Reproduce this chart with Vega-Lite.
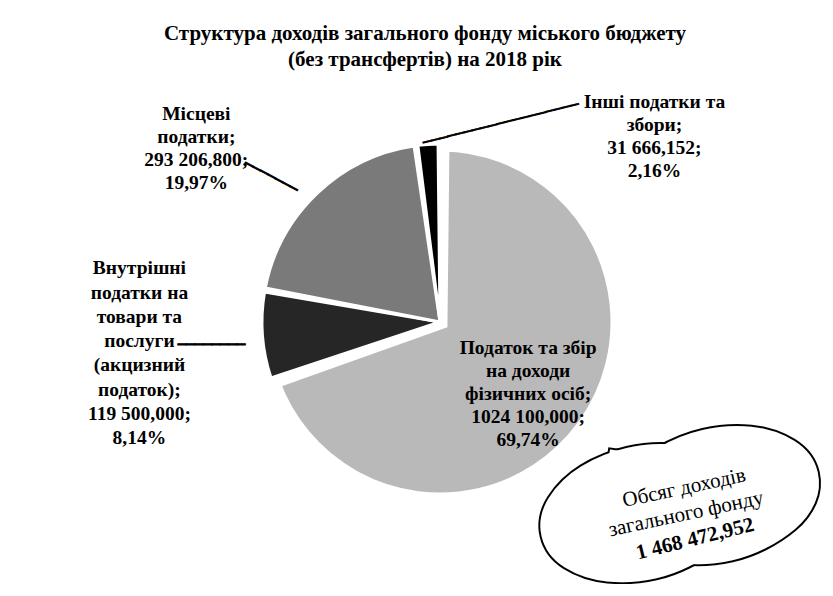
{
  "$schema": "https://vega.github.io/schema/vega-lite/v6.json",
  "autosize": {"type": "none"},
  "width": 776,
  "height": 524,
  "padding": {"top": 60, "left": 52, "right": 0, "bottom": 0},
  "background": "white",
  "config": {"view": {"stroke": null}, "font": "Liberation Serif"},
  "title": {
    "text": ["Структура доходів загального фонду міського бюджету", "(без трансфертів) на 2018 рік"],
    "font": "Liberation Serif",
    "fontSize": 21,
    "fontWeight": "bold",
    "lineHeight": 26,
    "color": "black",
    "anchor": "middle",
    "dx": -15,
    "offset": -10
  },
  "data": {
    "values": [
      {"n": 1, "cat": "Податок та збір на доходи фізичних осіб", "value": 1024100.000, "label": "Податок та збір\nна доходи\nфізичних осіб;\n1024 100,000;\n69,74%"},
      {"n": 2, "cat": "Внутрішні податки на товари та послуги (акцизний податок)", "value": 119500.000, "label": "Внутрішні\nподатки на\nтовари та\nпослуги\n(акцизний\nподаток);\n119 500,000;\n8,14%"},
      {"n": 3, "cat": "Місцеві податки", "value": 293206.800, "label": "Місцеві\nподатки;\n293 206,800;\n19,97%"},
      {"n": 4, "cat": "Інші податки та збори", "value": 31666.152, "label": "Інші податки та\nзбори;\n31 666,152;\n2,16%"}
    ]
  },
  "encoding": {
    "theta": {"field": "value", "type": "quantitative", "stack": true},
    "order": {"field": "n", "type": "quantitative"}
  },
  "layer": [
    {
      "mark": {"type": "arc", "outerRadius": 178, "padAngle": 0.022, "stroke": "white"},
      "encoding": {
        "color": {
          "field": "cat", "type": "nominal", "legend": null,
          "scale": {
            "domain": ["Податок та збір на доходи фізичних осіб", "Внутрішні податки на товари та послуги (акцизний податок)", "Місцеві податки", "Інші податки та збори"],
            "range": ["#b9b9b9", "#262626", "#7a7a7a", "#000000"]
          }
        },
        "strokeWidth": {"condition": {"test": "datum.n === 1", "value": 15}, "value": 3}
      }
    },
    {
      "mark": {"type": "text", "radius": 112, "dx": -3, "dy": -39, "lineBreak": "\n", "fontSize": 19.5, "fontWeight": "bold", "lineHeight": 23, "align": "center", "baseline": "middle", "color": "black"},
      "encoding": {"text": {"condition": {"test": "datum.n === 1", "field": "label"}, "value": ""}}
    },
    {
      "mark": {"type": "text", "radius": 150, "dx": -151, "dy": -65, "lineBreak": "\n", "fontSize": 19.5, "fontWeight": "bold", "lineHeight": 24.3, "align": "center", "baseline": "middle", "color": "black"},
      "encoding": {"text": {"condition": {"test": "datum.n === 2", "field": "label"}, "value": ""}}
    },
    {
      "mark": {"type": "text", "radius": 150, "dx": -140, "dy": -100, "lineBreak": "\n", "fontSize": 19.5, "fontWeight": "bold", "lineHeight": 23, "align": "center", "baseline": "middle", "color": "black"},
      "encoding": {"text": {"condition": {"test": "datum.n === 3", "field": "label"}, "value": ""}}
    },
    {
      "mark": {"type": "text", "radius": 185, "dx": 227, "dy": -35, "lineBreak": "\n", "fontSize": 19.5, "fontWeight": "bold", "lineHeight": 22.7, "align": "center", "baseline": "middle", "color": "black"},
      "encoding": {"text": {"condition": {"test": "datum.n === 4", "field": "label"}, "value": ""}}
    },
    {
      "mark": {"type": "text", "radius": 180, "dx": 75.5, "dy": -0.2, "angle": -14, "font": "DejaVu Sans Mono", "fontSize": 14, "align": "center", "baseline": "middle", "color": "black", "stroke": "black", "strokeWidth": 0.9},
      "encoding": {"text": {"condition": {"test": "datum.n === 4", "value": "───────────────────"}, "value": ""}}
    },
    {
      "mark": {"type": "text", "radius": 200, "dx": -27.4, "dy": 14.1, "angle": 28, "font": "DejaVu Sans Mono", "fontSize": 14, "align": "center", "baseline": "middle", "color": "black", "stroke": "black", "strokeWidth": 0.9},
      "encoding": {"text": {"condition": {"test": "datum.n === 3", "value": "───────"}, "value": ""}}
    },
    {
      "mark": {"type": "text", "radius": 200, "dx": -29, "dy": 8, "angle": 0, "font": "DejaVu Sans Mono", "fontSize": 14, "align": "center", "baseline": "middle", "color": "black", "stroke": "black", "strokeWidth": 0.9},
      "encoding": {"text": {"condition": {"test": "datum.n === 2", "value": "────────"}, "value": ""}}
    },
    {
      "mark": {"type": "text", "radius": 150, "dx": 131.7, "dy": 124.9, "fontSize": 252, "font": "DejaVu Sans", "angle": -13, "align": "center", "baseline": "middle", "fill": "white", "stroke": "black", "strokeWidth": 4},
      "encoding": {"text": {"condition": {"test": "datum.n === 1", "value": "⬬"}, "value": ""}}
    },
    {
      "mark": {"type": "text", "radius": 150, "dx": 53.7, "dy": 124.9, "fontSize": 252, "font": "DejaVu Sans", "angle": -13, "align": "center", "baseline": "middle", "fill": "white", "stroke": "black", "strokeWidth": 4},
      "encoding": {"text": {"condition": {"test": "datum.n === 1", "value": "⬬"}, "value": ""}}
    },
    {
      "mark": {"type": "text", "radius": 150, "dx": 76.1, "dy": 53.9, "fontSize": 60, "font": "DejaVu Sans", "angle": 8, "align": "center", "baseline": "middle", "fill": "white", "stroke": "black", "strokeWidth": 4},
      "encoding": {"text": {"condition": {"test": "datum.n === 1", "value": "■"}, "value": ""}}
    },
    {
      "mark": {"type": "text", "radius": 150, "dx": 131.7, "dy": 124.9, "fontSize": 252, "font": "DejaVu Sans", "angle": -13, "align": "center", "baseline": "middle", "fill": "white"},
      "encoding": {"text": {"condition": {"test": "datum.n === 1", "value": "⬬"}, "value": ""}}
    },
    {
      "mark": {"type": "text", "radius": 150, "dx": 53.7, "dy": 124.9, "fontSize": 252, "font": "DejaVu Sans", "angle": -13, "align": "center", "baseline": "middle", "fill": "white"},
      "encoding": {"text": {"condition": {"test": "datum.n === 1", "value": "⬬"}, "value": ""}}
    },
    {
      "mark": {"type": "text", "radius": 150, "dx": 76.1, "dy": 53.9, "fontSize": 60, "font": "DejaVu Sans", "angle": 8, "align": "center", "baseline": "middle", "fill": "white"},
      "encoding": {"text": {"condition": {"test": "datum.n === 1", "value": "■"}, "value": ""}}
    },
    {
      "mark": {"type": "text", "radius": 150, "dx": 103, "dy": 102.7, "fontSize": 21, "angle": -12, "align": "center", "baseline": "middle", "color": "black"},
      "encoding": {"text": {"condition": {"test": "datum.n === 1", "value": "Обсяг доходів"}, "value": ""}}
    },
    {
      "mark": {"type": "text", "radius": 150, "dx": 99.5, "dy": 128.5, "fontSize": 21, "angle": -12, "align": "center", "baseline": "middle", "color": "black"},
      "encoding": {"text": {"condition": {"test": "datum.n === 1", "value": "загального фонду"}, "value": ""}}
    },
    {
      "mark": {"type": "text", "radius": 150, "dx": 97.6, "dy": 158.3, "fontSize": 21, "fontWeight": "bold", "angle": -14, "align": "center", "baseline": "middle", "color": "black"},
      "encoding": {"text": {"condition": {"test": "datum.n === 1", "value": "1 468 472,952"}, "value": ""}}
    }
  ]
}
